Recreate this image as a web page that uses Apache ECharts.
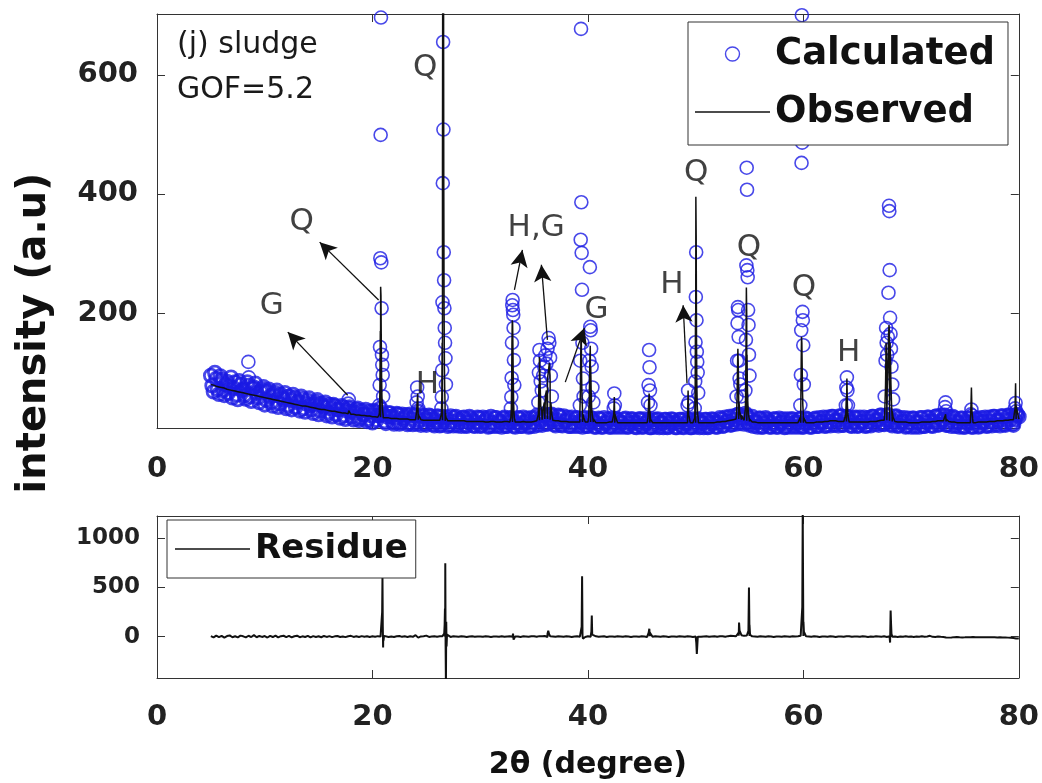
<!DOCTYPE html>
<html><head><meta charset="utf-8">
<script src="https://cdn.jsdelivr.net/npm/echarts@6/dist/echarts.min.js"></script>
<style>html,body{margin:0;padding:0;background:#fff}#c{width:1042px;height:783px}</style>
</head><body><div id="c"></div>
<script>
// ---- DATA ----
const thetaStart = 5, thetaStep = 0.25; // 2θ grid of the baseline scan, 5..80
const calcBase = [
 95,68,90,64,88,62,85,77,58,84,55,80,72,56,78,52,75,66,50,72,
 46,68,60,44,66,42,63,55,40,60,38,58,50,36,56,34,53,45,32,50,
 30,48,42,28,46,26,44,38,24,42,22,40,34,21,38,20,36,30,18,35,
 16,34,28,40,30,15,32,26,14,31,14,30,25,13,30,13,29,35,12,28,
 12,28,22,11,27,11,26,22,10,27,11,26,21,10,25,10,26,20,10,25,
 10,25,20,9,26,10,24,19,9,25,10,24,19,9,24,10,25,18,9,24,
 10,28,22,12,30,14,29,20,11,28,12,27,20,10,25,10,24,18,9,24,
 10,24,18,9,23,9,24,17,9,23,9,22,17,9,23,9,22,17,8,22,
 9,22,17,8,22,9,22,16,8,21,9,22,16,8,21,9,22,16,8,22,
 9,22,16,8,21,9,22,16,9,24,10,25,18,12,27,14,30,22,14,28,
 12,26,18,9,23,9,24,18,9,22,9,23,17,8,22,9,22,17,9,23,
 9,23,17,9,22,10,24,18,10,25,11,26,20,11,27,12,26,19,10,24,
 10,25,18,10,24,11,26,20,12,28,13,28,20,11,26,10,24,18,9,23,
 9,23,17,9,24,10,25,18,10,26,12,28,21,12,26,10,24,17,9,23,
 9,23,17,9,22,9,24,18,10,25,11,26,20,11,27,12,28,22,12,29,
 26];
// calculated points in between (5.125, 5.375, ... 79.875)
const calcMid = [
 78,100,72,94,70,80,66,92,74,63,86,70,62,84,60,74,82,58,68,76,
 54,72,50,62,70,48,58,66,45,54,63,42,52,60,40,48,57,38,46,54,
 36,44,50,33,40,46,30,38,44,28,36,42,26,33,40,24,30,38,22,28,
 36,20,28,33,18,26,32,17,24,30,16,22,29,15,22,28,14,20,27,14,
 20,27,13,19,26,12,18,25,12,18,25,11,17,24,11,17,24,11,17,24,
 11,17,24,10,16,24,10,16,23,10,16,23,10,16,23,10,16,23,10,16,
 24,12,19,28,14,22,30,13,20,27,11,18,25,10,16,23,10,16,23,10,
 16,23,9,15,22,9,15,22,9,15,22,9,15,22,9,15,22,9,15,22,
 9,15,21,8,15,21,8,15,21,8,15,21,8,15,21,8,15,21,8,15,
 21,8,15,21,8,15,21,9,16,22,11,18,26,13,21,29,15,24,31,16,
 22,10,16,23,9,15,22,9,15,22,9,15,22,9,15,22,9,15,22,9,
 15,22,9,16,23,10,17,25,11,18,26,12,19,27,12,19,26,11,17,25,
 11,17,25,11,18,26,13,20,28,14,21,29,13,19,27,11,17,24,10,16,
 23,9,16,24,10,17,25,11,18,27,13,20,28,12,19,26,10,16,23,9,
 16,23,9,16,23,10,17,25,11,18,26,12,19,27,13,20,28,14,21,29];
const obsBase = [
 80,79,77,76,75,74,72,71,70,69,68,67,66,65,64,63,62,61,60,59,
 58,57,56,55,54,53,52,51,50,49,48,47,46,45,44,44,43,42,41,40,
 39,38,38,37,36,35,35,34,33,32,32,31,30,30,29,29,28,28,27,27,
 26,26,25,25,24,24,24,23,23,23,22,22,22,22,21,21,21,21,21,20,
 20,20,20,20,20,20,20,19,19,19,19,19,19,19,19,18,18,18,18,18,
 18,18,17,17,18,18,17,17,17,18,18,17,17,17,17,17,18,17,17,17,
 18,19,20,21,22,22,21,20,19,19,18,18,18,17,17,17,17,17,17,17,
 17,17,17,16,16,16,16,16,17,17,16,16,16,16,16,16,16,16,16,16,
 16,16,16,16,16,16,16,16,16,16,16,16,16,16,16,16,16,16,16,16,
 16,16,16,16,16,16,16,16,17,17,18,18,19,20,21,22,22,21,20,19,
 18,17,17,16,16,16,16,16,16,16,16,16,16,16,16,16,16,16,16,16,
 16,16,16,16,16,17,17,17,18,18,19,19,19,18,18,18,18,17,17,17,
 17,17,17,17,17,18,18,18,19,20,20,20,19,18,18,17,17,17,17,16,
 16,16,16,16,17,17,17,17,18,18,19,19,19,18,18,17,17,16,16,16,
 16,16,16,16,16,17,17,17,17,18,18,18,19,19,19,20,20,21,21,22,
 22];
const residueBase = [
 5,-8,10,-5,8,-10,6,12,-6,4,-8,10,3,-7,9,-4,15,-6,7,-3,
 6,-9,8,-4,11,-7,5,9,-5,7,-8,4,10,-6,3,-4,8,-7,5,-3,
 4,-6,7,-3,5,-5,3,6,-4,2,-5,4,8,-3,3,-4,5,-2,4,-3,
 3,-2,5,0,-3,12,-4,2,-3,4,6,-2,3,-3,4,-2,15,-10,2,3,
 10,-3,2,4,-2,3,5,-2,2,-3,3,2,-2,3,2,-3,2,3,-2,2,
 2,-2,3,2,-3,2,2,-2,3,-2,2,3,-2,2,2,-3,3,2,-2,3,
 4,-2,5,3,6,-3,4,2,-2,3,2,-2,3,2,-3,2,3,-2,8,-4,
 3,-2,2,3,-2,2,3,-3,2,2,-2,3,2,-2,3,2,-3,2,2,-2,
 3,2,-3,5,-2,3,2,-2,3,2,-3,2,2,-2,3,2,-2,3,2,-3,
 2,3,-2,2,3,-2,2,3,-2,4,3,-2,5,8,6,4,10,15,8,12,
 6,3,2,-2,3,2,-2,3,2,-3,2,2,-2,3,2,-2,3,2,4,8,
 6,3,2,-2,3,2,-3,2,2,-2,3,2,-3,2,2,-2,3,4,-2,2,
 2,-2,3,2,-3,2,-2,3,2,-2,3,-3,4,-2,2,-3,2,-2,3,-2,
 2,-3,2,-2,3,-2,2,8,-2,-3,2,-2,-3,-8,-10,-8,-5,-3,-6,-8,
 -7,-5,-6,-4,-5,-6,-5,-7,-6,-5,-7,-6,-8,-7,-9,-8,-10,-12,-14,-18,
 -20];
// dense points across the Bragg peaks
const peakTheta = [
 8.48,8.52,
 17.75,17.80,
 20.63,20.67,20.70,20.73,20.76,20.79,20.82,20.85,20.88,20.91,20.95,20.99,
 24.10,24.15,24.20,24.25,
 26.40,26.44,26.47,26.50,26.53,26.56,26.59,26.62,26.65,26.68,26.71,26.74,26.78,26.82,
 32.85,32.89,32.92,32.95,32.98,33.01,33.04,33.07,33.10,33.13,33.17,
 35.40,35.45,35.50,35.55,35.62,35.72,35.85,35.95,36.05,36.15,36.25,36.35,36.42,36.49,36.56,36.65,
 39.25,39.29,39.33,39.36,39.39,39.42,39.45,39.49,39.54,39.60,40.07,40.13,40.18,40.22,40.26,40.30,40.35,40.42,40.50,
 42.40,42.45,42.50,
 45.58,45.63,45.68,45.72,45.76,45.81,
 49.25,49.30,49.35,
 49.92,49.96,49.99,50.02,50.05,50.08,50.11,50.15,50.19,50.24,
 53.80,53.85,53.89,53.92,53.95,53.99,54.03,54.08,54.15,54.25,54.62,54.67,54.71,54.74,54.77,54.80,54.83,54.87,54.91,54.95,55.00,
 59.72,59.77,59.80,59.83,59.86,59.89,59.92,59.95,59.99,60.04,
 63.94,63.99,64.04,64.09,64.14,
 67.55,67.63,67.68,67.73,67.78,67.84,67.90,67.95,67.98,68.01,68.05,68.09,68.13,68.18,68.25,68.33,
 73.15,73.20,73.25,
 75.55,75.60,75.65,
 79.65,79.70,79.75];
const peakCalc = [
 118,92,
 48,55,
 45,79,143,292,499,696,285,208,130,113,96,60,
 50,75,60,40,
 40,59,104,218,418,655,508,302,255,208,175,150,124,80,
 40,59,91,150,213,222,205,197,175,121,79,
 50,100,138,120,85,70,95,110,129,115,140,158,150,125,95,60,
 45,120,323,677,386,301,239,150,90,60,60,120,277,177,171,140,110,75,50,
 40,65,45,
 50,79,138,109,70,45,
 45,70,50,
 40,85,151,227,302,188,135,118,100,66,
 60,120,183,210,205,160,120,90,80,60,70,155,280,444,407,272,260,205,180,130,95,
 45,96,171,452,700,486,202,188,146,80,
 45,75,92,70,45,
 60,120,175,150,130,160,234,380,371,272,192,165,140,110,80,55,
 42,50,35,
 30,38,28,
 40,49,35];
const peakObs = [
 64,64,
 33,36,
 30,45,90,170,244,230,150,90,60,45,35,28,
 35,50,65,30,
 30,60,150,450,900,1400,900,420,200,110,70,45,32,25,
 25,40,80,150,188,185,140,90,55,35,25,
 30,80,126,90,45,35,40,50,60,70,90,105,116,90,50,30,
 30,60,120,168,150,90,60,40,30,25,25,60,120,145,110,70,40,28,22,
 30,59,30,
 25,45,65,55,35,22,
 30,70,30,
 25,80,200,395,330,160,80,45,30,22,
 30,60,110,140,120,80,50,35,30,28,40,120,243,200,130,80,55,40,30,25,22,
 25,60,120,160,150,110,70,45,32,24,
 30,60,90,45,28,
 30,80,150,110,70,100,160,180,170,130,150,120,80,50,35,25,
 22,30,22,
 40,75,35,
 40,82,45];
const resPeakTheta = [20.86,20.90,20.93,20.96,20.99,21.03,21.07, 26.66,26.70,26.73,26.76,26.79,26.82,26.85,26.88,26.92,
 33.05,33.10, 36.25,36.32,36.40, 39.42,39.46,39.50,39.54, 40.32,40.36,40.40, 45.64,45.70,45.76,
 50.06,50.11,50.16,50.20, 53.98,54.03,54.08, 54.90,54.95,55.00,55.05, 59.90,59.94,59.97,60.01,60.05, 68.05,68.10,68.14,68.18];
const resPeakValue = [0,250,600,100,-110,-40,8, 30,120,285,745,-80,-500,150,-100,20,
 30,-30, 30,60,25, 100,612,20,-20, 50,214,20, 40,80,40,
 -60,-175,-80,0, 40,143,60, 60,500,120,20, 300,1260,602,150,50, -60,265,130,30];
const xTicks = [0,20,40,60,80];
const yTicksTop = [200,400,600];
const yTicksRes = [0,500,1000];
// phase labels (Q quartz, G goethite, H hematite) anchored in data coordinates
const annotText = ['Q','Q','G','H','H,G','G','Q','H','Q','Q','H'];
const annotTheta = [24.9,13.44,10.66,25.1,35.2,40.8,50.05,47.8,54.96,60.06,64.2];
const annotIntensity = [612,353,212,80,343,205,435,247,309,242,133];
const arrowFrom = [[20.57,222],[17.7,62],[33.18,239],[36.24,155],[37.9,84],[49.2,82]];
const arrowTo   = [[15.1,319],[12.14,168],[33.92,306],[35.68,281],[39.67,175],[48.84,213]];

// ---- BUILD ----
function build(base, mid, pT, pV) {
  const pts = base.map((v, i) => [+(thetaStart + i * thetaStep).toFixed(3), v]);
  mid.forEach((v, i) => pts.push([+(thetaStart + thetaStep / 2 + i * thetaStep).toFixed(3), v]));
  pT.forEach((t, i) => pts.push([t, pV[i]]));
  pts.sort((a, b) => a[0] - b[0]);
  return pts;
}
const calcBand = build(calcBase, calcMid, [], []);
const calcPeaks = build([], [], peakTheta, peakCalc);
const obsData = build(obsBase, [], peakTheta, peakObs);
const resData = build(residueBase, [], resPeakTheta, resPeakValue);

const FONT = 'DejaVu Sans';
const AX = '#333';
const BLUE = '#1a1ae4';
const LINE_ICON = 'path://M0 0H100V2H0Z';
const tickLbl = (size, margin, vals) => {
  const o = {show: true, fontFamily: FONT, fontWeight: 'bold', fontSize: size, color: '#222', margin: margin,
    formatter: v => String(v)};
  if (vals) o.customValues = vals;
  return o;
};
function xAx(grid, pos, label) {
  return {type: 'value', gridIndex: grid, position: pos, min: xTicks[0], max: xTicks[xTicks.length - 1], interval: 20,
    axisLine: {show: true, onZero: false, lineStyle: {color: AX, width: 1}},
    axisTick: {show: true, inside: true, length: 8, lineStyle: {color: AX}},
    axisLabel: label || {show: false}, splitLine: {show: false}};
}
function yAx(grid, pos, min, max, ticks, label) {
  return {type: 'value', gridIndex: grid, position: pos, min: min, max: max,
    axisLine: {show: true, onZero: false, lineStyle: {color: AX, width: 1}},
    axisTick: {show: true, inside: true, length: 8, customValues: ticks, lineStyle: {color: AX}},
    axisLabel: label || {show: false}, splitLine: {show: false}};
}
const xAxes = [xAx(0, 'bottom', tickLbl(29, 27)), xAx(0, 'top'), xAx(1, 'bottom', tickLbl(29, 25)), xAx(1, 'top')];
xAxes[2].name = '2θ (degree)';
xAxes[2].nameLocation = 'middle';
xAxes[2].nameGap = 72;
xAxes[2].nameTextStyle = {fontFamily: FONT, fontWeight: 'bold', fontSize: 30, color: '#111'};
const yAxes = [
  yAx(0, 'left', 7, 702, yTicksTop, tickLbl(29, 19, yTicksTop)),
  yAx(0, 'right', 7, 702, yTicksTop),
  yAx(1, 'left', -420, 1225, yTicksRes, tickLbl(23, 17, yTicksRes)),
  yAx(1, 'right', -420, 1225, yTicksRes)
];

const chart = echarts.init(document.getElementById('c'), null, {renderer: 'canvas'});
chart.setOption({
  animation: false,
  backgroundColor: '#fff',
  grid: [
    {left: 157, top: 14, width: 863, height: 414},
    {left: 157, top: 516, width: 863, height: 162}
  ],
  xAxis: xAxes,
  yAxis: yAxes,
  legend: [
    {data: [{name: 'Calculated'}, {name: 'Observed', icon: LINE_ICON}], orient: 'vertical', left: 688, top: 22,
     padding: [10, 13, 11, 7], itemGap: 14, itemWidth: 75, itemHeight: 14, symbolKeepAspect: true,
     backgroundColor: '#fff', borderColor: '#333', borderWidth: 1,
     itemStyle: {borderWidth: 1.4},
     selectedMode: false, textStyle: {fontFamily: FONT, fontWeight: 'bold', fontSize: 37, lineHeight: 44, color: '#111'}},
    {data: [{name: 'Residue', icon: LINE_ICON}], orient: 'vertical', left: 167, top: 520, padding: [9, 8, 9, 8],
     itemWidth: 75, itemHeight: 14, symbolKeepAspect: true, backgroundColor: '#fff', borderColor: '#333', borderWidth: 1,
     selectedMode: false, textStyle: {fontFamily: FONT, fontWeight: 'bold', fontSize: 34, lineHeight: 40, color: '#111'}}
  ],
  graphic: [
    {type: 'text', left: 177, top: 23, z: 10,
     style: {text: '(j) sludge\nGOF=5.2', fontFamily: FONT, fontSize: 30, lineHeight: 45, fill: '#1a1a1a'}},
    {type: 'text', x: 35, y: 333, rotation: Math.PI / 2, z: 10,
     style: {text: 'intensity (a.u)', fontFamily: FONT, fontWeight: 'bold', fontSize: 40, fill: '#111',
       align: 'center', verticalAlign: 'middle', textAlign: 'center', textVerticalAlign: 'middle'}}
  ],
  series: [
    {name: 'Calculated', type: 'scatter', xAxisIndex: 0, yAxisIndex: 0, data: calcBand,
     symbol: 'circle', symbolSize: 13, z: 2, silent: true, large: false,
     itemStyle: {color: 'rgba(0,0,0,0)', borderColor: BLUE, borderWidth: 2.8}},
    {name: 'Calculated', type: 'scatter', xAxisIndex: 0, yAxisIndex: 0, data: calcPeaks,
     symbol: 'circle', symbolSize: 13, z: 2, silent: true, large: false,
     itemStyle: {color: 'rgba(0,0,0,0)', borderColor: BLUE, borderWidth: 1.6}},
    {name: 'Observed', type: 'line', xAxisIndex: 0, yAxisIndex: 0, data: obsData,
     symbol: 'none', showSymbol: false, z: 3, silent: true,
     lineStyle: {color: '#111', width: 1.5}, itemStyle: {color: '#111'}},
    {name: 'labels', type: 'scatter', xAxisIndex: 0, yAxisIndex: 0, z: 5, silent: true,
     symbolSize: 1, itemStyle: {color: 'rgba(0,0,0,0)'},
     data: annotText.map((t, i) => ({name: t, value: [annotTheta[i], annotIntensity[i]]})),
     label: {show: true, position: 'inside', formatter: '{b}', fontFamily: FONT, fontSize: 31, color: '#111'},
     markLine: {silent: true, animation: false, symbol: ['none', 'arrow'], symbolSize: [13, 17],
       label: {show: false}, lineStyle: {color: '#111', width: 1.3, type: 'solid', opacity: 1},
       data: arrowFrom.map((f, i) => [{coord: f}, {coord: arrowTo[i]}])}},
    {name: 'Residue', type: 'line', xAxisIndex: 2, yAxisIndex: 2, data: resData,
     symbol: 'none', showSymbol: false, silent: true,
     lineStyle: {color: '#111', width: 2}, itemStyle: {color: '#111'}}
  ]
});
</script></body></html>
